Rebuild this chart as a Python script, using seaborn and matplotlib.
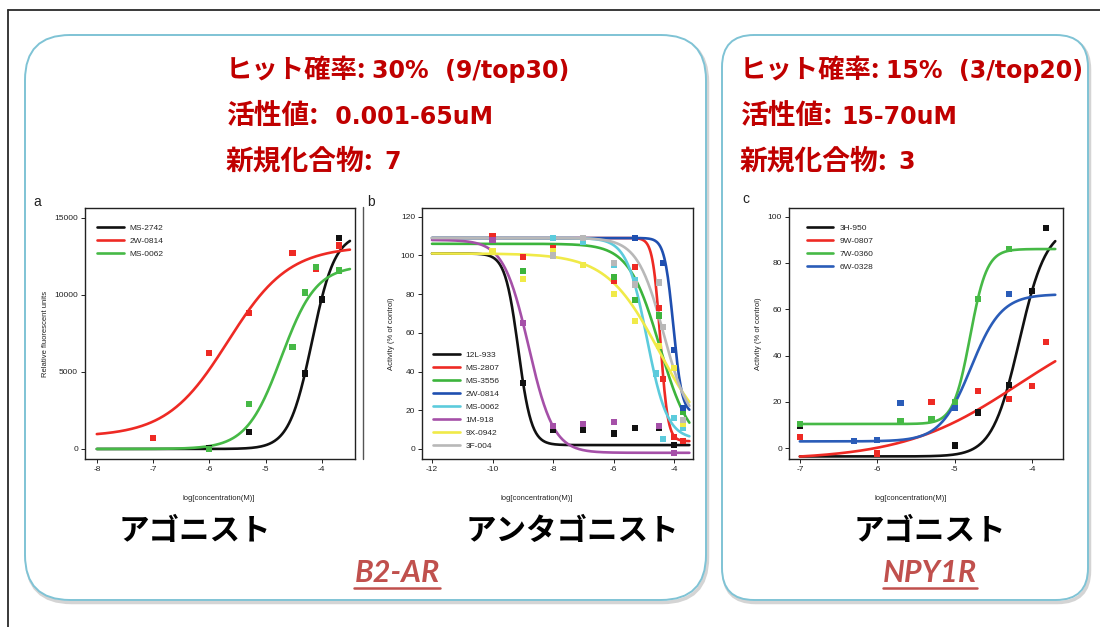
import numpy as np
import pandas as pd
import matplotlib
matplotlib.use("Agg")
import matplotlib.pyplot as plt
from matplotlib.patches import FancyBboxPatch
import seaborn as sns

sns.set_style("white")
plt.rcParams['font.family'] = ['Liberation Sans', 'Noto Sans CJK JP', 'DejaVu Sans']
plt.rcParams['axes.unicode_minus'] = False

# ---------------- data ----------------
# Panel a (B2-AR agonist): Relative fluorescent units
a_names = ["MS-2742", "2W-0814", "MS-0062"]
a_colors = ["#111111", "#ee2a24", "#46b946"]
a_x = [[-6.0, -5.3, -4.3, -4.0, -3.7],
       [-7.0, -6.0, -5.3, -4.52, -4.1, -3.7],
       [-6.0, -5.3, -4.52, -4.3, -4.1, -3.7]]
a_y = [[50, 1100, 4900, 9700, 13700],
       [700, 6200, 8800, 12700, 11650, 13200],
       [0, 2900, 6600, 10150, 11780, 11580]]
# fitted 4PL params: bottom, top, logEC50, hill
a_bottom = [0, 800, 0]
a_top = [14000, 13150, 11900]
a_ec50 = [-4.173, -5.67, -4.72]
a_hill = [2.12, 0.8, 1.4]

# Panel b (B2-AR antagonist): Activity (% of control)
b_names = ["12L-933", "MS-2807", "MS-3556", "2W-0814", "MS-0062", "1M-918", "9X-0942", "3F-004"]
b_colors = ["#111111", "#ee2a24", "#3cb43c", "#1f4fb0", "#5ccbdc", "#a550a8", "#f0ea48", "#b8b8b8"]
b_x = [[-9, -8, -7, -6, -5.3, -4.5, -4],
       [-10, -9, -8, -6, -5.3, -4.5, -4.36, -4, -3.7],
       [-9, -6, -5.3, -4.5, -3.7],
       [-5.3, -4.36, -4, -3.7],
       [-8, -7, -6, -5.3, -4.6, -4.36, -4, -3.7],
       [-10, -9, -8, -7, -6, -4.5, -4],
       [-10, -9, -8, -7, -6, -5.3, -4.5, -4, -3.7],
       [-8, -7, -6, -5.3, -4.5, -4.36, -3.7]]
b_y = [[34, 10, 10, 8, 11, 11, 2],
       [110, 99, 104, 87, 94, 73, 36, 6, 4],
       [92, 89, 77, 69, 19],
       [109, 96, 51, 21],
       [109, 107, 95, 87, 39, 5, 16, 11],
       [108, 65, 12, 13, 14, 12, -2],
       [102, 88, 102, 95, 80, 66, 53, 42, 13],
       [100, 109, 96, 85, 86, 63, 15]]
b_bottom = [2, 4, 0, 18, 5, -2, 0, 10]
b_top = [101, 109, 106, 109, 109, 108, 101, 109]
b_ic50 = [-9.15, -4.46, -4.48, -4.03, -4.9, -8.81, -4.5, -4.35]
b_hill = [2.0, 3.5, 0.85, 3.0, 1.3, 1.05, 0.5, 1.0]

# Panel c (NPY1R agonist): Activity (% of control)
c_names = ["3H-950", "9W-0807", "7W-0360", "6W-0328"]
c_colors = ["#111111", "#ee2a24", "#46b946", "#2a5cb8"]
c_x = [[-7, -5, -4.7, -4.3, -4, -3.82],
       [-7, -6, -5.3, -4.7, -4.3, -4, -3.82],
       [-7, -5.7, -5.3, -5, -4.7, -4.3],
       [-6.3, -6, -5.7, -5, -4.3]]
c_y = [[9.6, 1.2, 15.5, 27.3, 67.9, 95],
       [5, -2.2, 20, 24.7, 21.3, 27, 46],
       [10.5, 11.9, 12.5, 20.1, 64.3, 85.9],
       [3.2, 3.6, 19.4, 17.3, 66.6]]
c_bottom = [-3.5, -5, 10.5, 3]
c_top = [96, 60, 86, 66.5]
c_ec50 = [-4.165, -4.18, -4.8, -4.79]
c_hill = [2.47, 0.58, 4.0, 2.2]

stat_keys = ["ヒット確率:", "活性値:", "新規化合物:"]
left_vals = ["30%  (9/top30)", " 0.001-65uM", "7"]
right_vals = ["15%  (3/top20)", "15-70uM", "3"]
xlabel_txt = "log[concentration(M)]"


def stim(x, b, t, c, h):
    return b + (t - b) / (1 + 10 ** ((c - x) * h))


def inhib(x, b, t, c, h):
    return b + (t - b) / (1 + 10 ** ((x - c) * h))


# ---------------- figure ----------------
W, H = 1100, 627
fig = plt.figure(figsize=(W / 100, H / 100), dpi=100)
fig.patch.set_facecolor("white")

bg = fig.add_axes([0, 0, 1, 1], zorder=0)
bg.set_xlim(0, W)
bg.set_ylim(H, 0)
bg.axis("off")
rend = fig.canvas.get_renderer()

# outer frame lines
bg.plot([7.5, 7.5], [10, H], color="#2a2a2a", lw=1.3)
bg.plot([7.5, W], [10, 10], color="#2a2a2a", lw=1.3)


def rbox(x0, y0, w, h, r):
    sh = FancyBboxPatch((x0 + 1.5, y0 + 2.5), w, h, boxstyle=f"round,pad=0,rounding_size={r}",
                        fc="none", ec="#d4d4d4", lw=2.5, zorder=1)
    bg.add_patch(sh)
    p = FancyBboxPatch((x0, y0), w, h, boxstyle=f"round,pad=0,rounding_size={r}",
                       fc="white", ec="#7fc3d5", lw=1.4, zorder=2)
    bg.add_patch(p)


rbox(25, 35, 681, 565, 45)
rbox(722, 35, 366, 565, 32)

# separator line left of panel b
bg.plot([363, 363], [207, 459], color="#555555", lw=1, zorder=3)

# header stats: CJK key + Latin value
red = "#c00000"


def text_right_edge(t):
    bb = t.get_window_extent(renderer=rend)
    inv = bg.transData.inverted()
    return inv.transform([[bb.x1, bb.y1]])[0][0]


key_sizes = [19, 20, 20]
key_gaps = [5, 9, 11]
for x0, vals in [(226, left_vals), (740, right_vals)]:
    for i, (k, v) in enumerate(zip(stat_keys, vals)):
        y = 70 + 45.5 * i
        tk = bg.text(x0, y, k, color=red, fontsize=key_sizes[i], fontweight="bold",
                     family=["Noto Sans CJK JP"], ha="left", va="center", zorder=4)
        xe = text_right_edge(tk)
        bg.text(xe + key_gaps[i], y + 1, v, color=red, fontsize=17, fontweight="bold",
                family=["DejaVu Sans"], ha="left", va="center", zorder=4)

# big black labels
for xc, s in [(195, "アゴニスト"), (572, "アンタゴニスト"), (930, "アゴニスト")]:
    bg.text(xc, 531, s, color="black", fontsize=22, fontweight="bold",
            family=["Noto Sans CJK JP"], ha="center", va="center", zorder=4)

# target names (underlined)
tname = []
for xc, s in [(397, "B2-AR"), (930, "NPY1R")]:
    t = bg.text(xc, 573, s, color="#c0504d", fontsize=22, fontweight="bold", style="italic",
                family=["Lato", "DejaVu Sans"], ha="center", va="center", zorder=4)
    tname.append(t)

# panel letters
for xx, yy, s in [(37, 202, "a"), (371, 202, "b"), (746, 199, "c")]:
    bg.text(xx, yy, s, fontsize=10, color="#222222", ha="center", va="center", zorder=4)

# x labels
for xc in [219, 537, 911]:
    bg.text(xc, 499, xlabel_txt, fontsize=5.5, color="#222222", ha="center", va="center", zorder=4)


def mk_axes(l, r, t, b):
    return fig.add_axes([l / W, 1 - b / H, (r - l) / W, (b - t) / H], zorder=5)


def style_ax(ax):
    for sp in ax.spines.values():
        sp.set_color("#222222")
        sp.set_linewidth(1.0)
    ax.tick_params(axis="both", direction="out", length=3, width=0.7, labelsize=6,
                   colors="#222222", pad=2, bottom=True, left=True)
    ax.set_xlabel("")
    ax.set_ylabel("")


def draw_panel(ax, names, colors, xs, ys, bottoms, tops, mids, hills, func, xr):
    xx = np.linspace(xr[0], xr[1], 300)
    for n, col, px, py, b, t, c, h in zip(names, colors, xs, ys, bottoms, tops, mids, hills):
        df = pd.DataFrame({"x": xx, "y": func(xx, b, t, c, h)})
        sns.lineplot(data=df, x="x", y="y", color=col, lw=1.9, label=n, ax=ax, zorder=2)
        dp = pd.DataFrame({"x": px, "y": py})
        sns.scatterplot(data=dp, x="x", y="y", color=col, marker="s", s=20,
                        edgecolor="none", legend=False, ax=ax, zorder=3)


leg_kw = dict(frameon=False, fontsize=6, handlelength=3.2, handletextpad=0.7,
              labelspacing=0.62, borderpad=0, borderaxespad=0)

# Panel a
axa = mk_axes(85, 355, 208, 459)
draw_panel(axa, a_names, a_colors, a_x, a_y, a_bottom, a_top, a_ec50, a_hill, stim, (-8, -3.5))
axa.set_xlim(-8.21, -3.41)
axa.set_ylim(-650, 15630)
axa.set_xticks([-8, -7, -6, -5, -4])
axa.set_yticks([0, 5000, 10000, 15000])
style_ax(axa)
axa.legend(loc="upper left", bbox_to_anchor=(0.044, 0.935), **leg_kw)
axa.set_ylabel("Relative fluorescent units", fontsize=5.5, color="#222222", labelpad=4)

# Panel b
axb = mk_axes(422, 693, 208, 459)
draw_panel(axb, b_names, b_colors, b_x, b_y, b_bottom, b_top, b_ic50, b_hill, inhib, (-12, -3.5))
axb.set_xlim(-12.33, -3.38)
axb.set_ylim(-5.2, 124.5)
axb.set_xticks([-12, -10, -8, -6, -4])
axb.set_yticks([0, 20, 40, 60, 80, 100, 120])
style_ax(axb)
axb.legend(loc="lower left", bbox_to_anchor=(0.04, 0.035), **leg_kw)
axb.set_ylabel("Activity (% of control)", fontsize=5.5, color="#222222", labelpad=4)

# Panel c
axc = mk_axes(789, 1063, 208, 459)
draw_panel(axc, c_names, c_colors, c_x, c_y, c_bottom, c_top, c_ec50, c_hill, stim, (-7, -3.7))
axc.set_xlim(-7.14, -3.6)
axc.set_ylim(-4.6, 103.7)
axc.set_xticks([-7, -6, -5, -4])
axc.set_yticks([0, 20, 40, 60, 80, 100])
style_ax(axc)
axc.legend(loc="upper left", bbox_to_anchor=(0.065, 0.935), **leg_kw)
axc.set_ylabel("Activity (% of control)", fontsize=5.5, color="#222222", labelpad=4)

# underline target names
fig.canvas.draw()
rend = fig.canvas.get_renderer()
inv = bg.transData.inverted()
for t in tname:
    bb = t.get_window_extent(renderer=rend)
    (x0, y0), (x1, y1) = inv.transform([[bb.x0, bb.y0], [bb.x1, bb.y1]])
    ybot = max(y0, y1)
    bg.plot([x0, x1], [ybot + 1.0, ybot + 1.0], color="#c0504d", lw=1.8, zorder=4)

fig.savefig("out.png", dpi=100, facecolor="white")
